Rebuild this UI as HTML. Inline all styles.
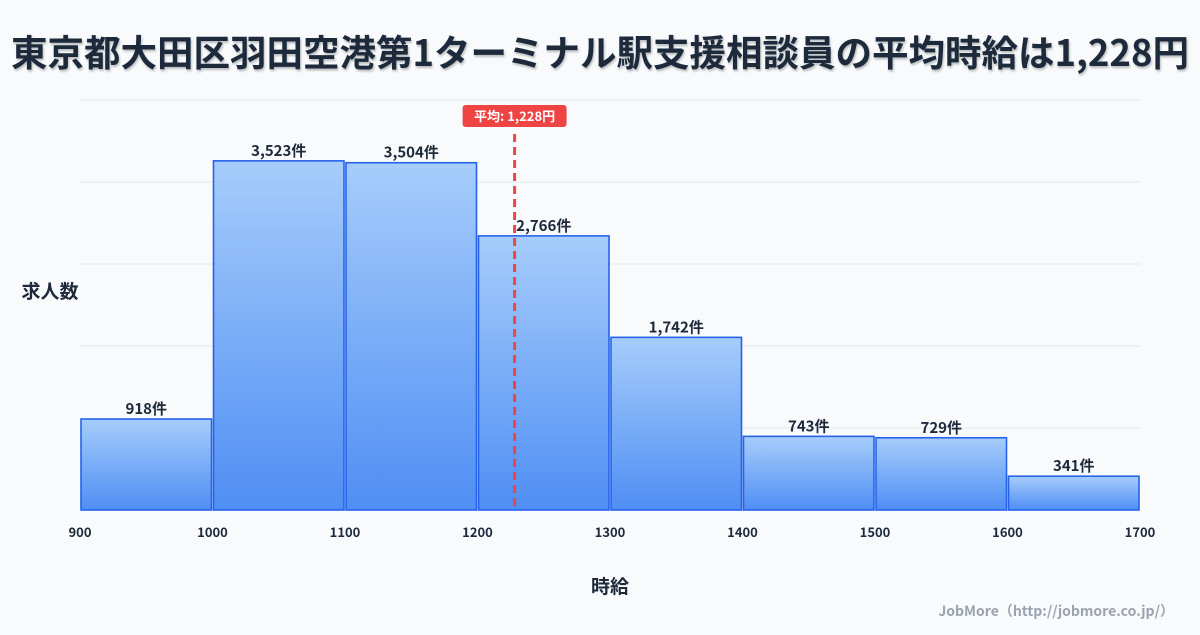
<!DOCTYPE html>
<html><head><meta charset="utf-8"><style>
body{margin:0;background:#f8fafc;width:1200px;height:630px;overflow:hidden;font-family:"Liberation Sans","Noto Sans CJK JP",sans-serif}
</style></head><body>
<svg id="c" width="1200" height="630" xmlns="http://www.w3.org/2000/svg">
<defs><linearGradient id="g" x1="0" y1="0" x2="0" y2="1"><stop offset="0" stop-color="#a6cdfb"/><stop offset="1" stop-color="#4f8ef4"/></linearGradient>
<filter id="sh"><feDropShadow dx="1" dy="2" stdDeviation="1" flood-color="#000" flood-opacity="0.25"/></filter></defs>
<text x="600" y="66" text-anchor="middle" font-size="36.5" font-weight="bold" fill="#1e293b" filter="url(#sh)" font-family="Noto Sans CJK JP, sans-serif">東京都大田区羽田空港第1ターミナル駅支援相談員の平均時給は1,228円</text>
<g id="grid"></g><g id="bars"></g><g id="xt"></g>
<text x="50" y="298" text-anchor="middle" font-size="19" font-weight="bold" fill="#1e293b" font-family="Noto Sans CJK JP, sans-serif">求人数</text>
<text x="610" y="593" text-anchor="middle" font-size="19" font-weight="bold" fill="#1e293b" font-family="Noto Sans CJK JP, sans-serif">時給</text>
<text x="1174" y="616" text-anchor="end" font-size="14" font-weight="bold" fill="#9ca3af" font-family="Noto Sans CJK JP, sans-serif">JobMore（http://jobmore.co.jp/）</text>
<g id="mean"></g>
</svg>
<script>
const binStarts=[900,1000,1100,1200,1300,1400,1500,1600];
const counts=[918,3523,3504,2766,1742,743,729,341];
const xTicks=[900,1000,1100,1200,1300,1400,1500,1600,1700];
const meanValue=1228;
const binWidth=100;
const ns="http://www.w3.org/2000/svg";
const X0=80,X1=1140,Y0=510,Y1=100,xmin=900,xmax=1700,ymax=4137;
const sx=v=>X0+(v-xmin)/(xmax-xmin)*(X1-X0);
const sy=v=>Y0-v/ymax*(Y0-Y1);
function mk(t,a,p,txt){const e=document.createElementNS(ns,t);for(const k in a)e.setAttribute(k,a[k]);if(txt!=null)e.textContent=txt;p.appendChild(e);return e;}
const grid=document.getElementById('grid');
for(let i=1;i<=5;i++){const y=Y0-i*(Y0-Y1)/5;const l=mk('line',{x1:X0,x2:X1,y1:y,y2:y,stroke:'#e2e8f0','stroke-width':1},grid);

}
const bars=document.getElementById('bars');
binStarts.forEach((b,i)=>{const x=sx(b)+1,w=sx(b+binWidth)-sx(b)-2,y=sy(counts[i]);
const r=mk('rect',{x:x,y:y,width:w,height:Y0-y,fill:'url(#g)',stroke:'#2563eb','stroke-width':1.6},bars);


const t=mk('text',{x:x+w/2,y:y-5,'text-anchor':'middle','font-size':15,'font-weight':'bold',fill:'#1e293b','font-family':'Noto Sans CJK JP, sans-serif'},bars,counts[i].toLocaleString('en-US')+'件');

});
const xt=document.getElementById('xt');
xTicks.forEach(v=>{const t=mk('text',{x:sx(v),y:537,'text-anchor':'middle','font-size':13,'font-weight':'bold',fill:'#1e293b','font-family':'Noto Sans CJK JP, sans-serif'},xt,v);

});
const m=document.getElementById('mean');const mx=sx(meanValue);
const ml=mk('line',{x1:mx,x2:mx,y1:134,y2:510,stroke:'#ef4444','stroke-width':3,'stroke-dasharray':'8,5'},m);


const mb=mk('rect',{x:mx-52,y:105,width:104,height:22,rx:3,fill:'#ef4444'},m);


const mt=mk('text',{x:mx,y:121,'text-anchor':'middle','font-size':13,'font-weight':'bold',fill:'#fff','font-family':'Noto Sans CJK JP, sans-serif'},m,'平均: '+meanValue.toLocaleString('en-US')+'円');


</script>
</body></html>
